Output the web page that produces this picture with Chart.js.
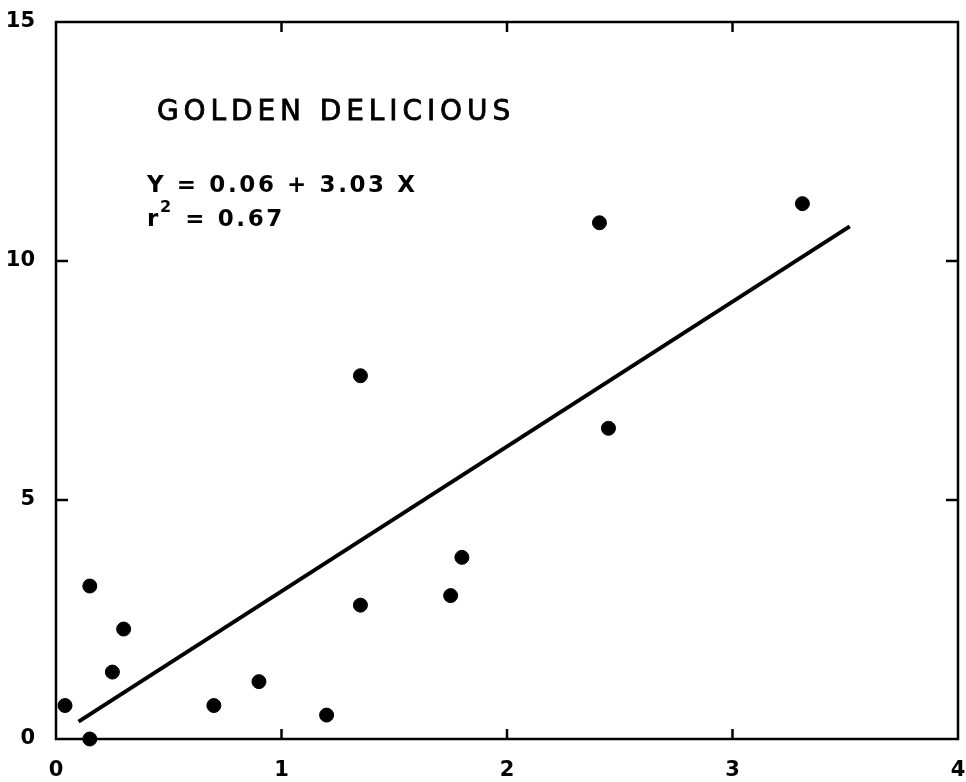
<!DOCTYPE html>
<html>
<head>
<meta charset="utf-8">
<script src="https://cdn.jsdelivr.net/npm/chart.js@4/dist/chart.umd.min.js"></script>
<style>
  html, body { margin: 0; padding: 0; background: #fff; }
  #wrap { width: 966px; height: 782px; }
</style>
</head>
<body>
<div id="wrap"><canvas id="c" width="966" height="782"></canvas></div>
<script>
// Observed samples
const xValues = [0.04, 0.15, 0.15, 0.25, 0.30, 0.70, 0.90, 1.20, 1.35, 1.35, 1.75, 1.80, 2.41, 2.45, 3.31];
const yValues = [0.70, 0.00, 3.20, 1.40, 2.30, 0.70, 1.20, 0.50, 7.60, 2.80, 3.00, 3.80, 10.80, 6.50, 11.20];

// Fitted line Y = a + b X, drawn over the observed x span
const fitIntercept = 0.06;
const fitSlope = 3.03;
const rSquared = 0.67;
const fitRange = [0.10, 3.52];

// Axis ranges and ticks
const xTicks = [0, 1, 2, 3, 4];
const yTicks = [0, 5, 10, 15];

const title = 'GOLDEN DELICIOUS';
const eqLine = 'Y = ' + fitIntercept.toFixed(2) + ' + ' + fitSlope.toFixed(2) + ' X';
const r2Line = ' = ' + rSquared.toFixed(2);

const points = xValues.map((x, i) => ({ x: x, y: yValues[i] }));
const fitPoints = fitRange.map(x => ({ x: x, y: fitIntercept + fitSlope * x }));

const frameAndText = {
  id: 'frameAndText',
  afterDraw(chart) {
    const { ctx, chartArea: a, scales } = chart;
    const xs = scales.x, ys = scales.y;
    ctx.save();
    ctx.strokeStyle = '#000';
    ctx.lineWidth = 2.5;
    ctx.strokeRect(a.left, a.top, a.right - a.left, a.bottom - a.top);
    ctx.beginPath();
    xTicks.slice(1, -1).forEach(v => {
      const px = xs.getPixelForValue(v);
      ctx.moveTo(px, a.bottom); ctx.lineTo(px, a.bottom - 10);
      ctx.moveTo(px, a.top); ctx.lineTo(px, a.top + 10);
    });
    yTicks.slice(1, -1).forEach(v => {
      const py = ys.getPixelForValue(v);
      ctx.moveTo(a.left, py); ctx.lineTo(a.left + 12, py);
      ctx.moveTo(a.right, py); ctx.lineTo(a.right - 12, py);
    });
    ctx.stroke();

    ctx.fillStyle = '#000';
    ctx.strokeStyle = '#000';
    ctx.textBaseline = 'alphabetic';
    ctx.textAlign = 'left';
    ctx.font = '28px "DejaVu Sans"';
    ctx.letterSpacing = '4.9px';
    ctx.lineWidth = 0.8;
    ctx.fillText(title, 157, 120);
    ctx.strokeText(title, 157, 120);

    ctx.font = 'bold 23px "DejaVu Sans"';
    ctx.letterSpacing = '2.6px';
    ctx.fillText(eqLine, 147, 192);
    ctx.fillText('r', 147, 226);
    const rw = ctx.measureText('r').width;
    ctx.font = 'bold 16px "DejaVu Sans"';
    ctx.fillText('2', 147 + rw - 1, 212);
    const sw = ctx.measureText('2').width;
    ctx.font = 'bold 23px "DejaVu Sans"';
    ctx.fillText(r2Line, 147 + rw + sw, 226);
    ctx.restore();
  }
};

new Chart(document.getElementById('c'), {
  data: {
    datasets: [
      {
        type: 'scatter',
        data: points,
        backgroundColor: '#000',
        borderColor: '#000',
        pointRadius: 7,
        pointHoverRadius: 7,
        clip: false
      },
      {
        type: 'line',
        data: fitPoints,
        borderColor: '#000',
        borderWidth: 4,
        pointRadius: 0,
        fill: false
      }
    ]
  },
  options: {
    responsive: false,
    animation: false,
    events: [],
    layout: { padding: { top: 22, right: 7, left: 0, bottom: 0 } },
    plugins: { legend: { display: false }, tooltip: { enabled: false }, title: { display: false } },
    scales: {
      x: {
        type: 'linear',
        min: xTicks[0],
        max: xTicks[xTicks.length - 1],
        afterBuildTicks: s => { s.ticks = xTicks.map(v => ({ value: v })); },
        afterFit: s => { s.height = 43; s.paddingLeft = 0; s.paddingRight = 0; },
        grid: { display: false, drawTicks: false },
        border: { display: false },
        ticks: {
          color: '#000',
          padding: 19,
          font: { family: '"DejaVu Sans", sans-serif', size: 21, weight: 'bold' },
          maxRotation: 0
        }
      },
      y: {
        type: 'linear',
        min: yTicks[0],
        max: yTicks[yTicks.length - 1],
        afterBuildTicks: s => { s.ticks = yTicks.map(v => ({ value: v })); },
        afterFit: s => { s.width = 56; s.paddingTop = 0; s.paddingBottom = 0; },
        grid: { display: false, drawTicks: false },
        border: { display: false },
        ticks: {
          color: '#000',
          padding: 21,
          font: { family: '"DejaVu Sans", sans-serif', size: 21, weight: 'bold' }
        }
      }
    }
  },
  plugins: [frameAndText]
});
</script>
</body>
</html>
